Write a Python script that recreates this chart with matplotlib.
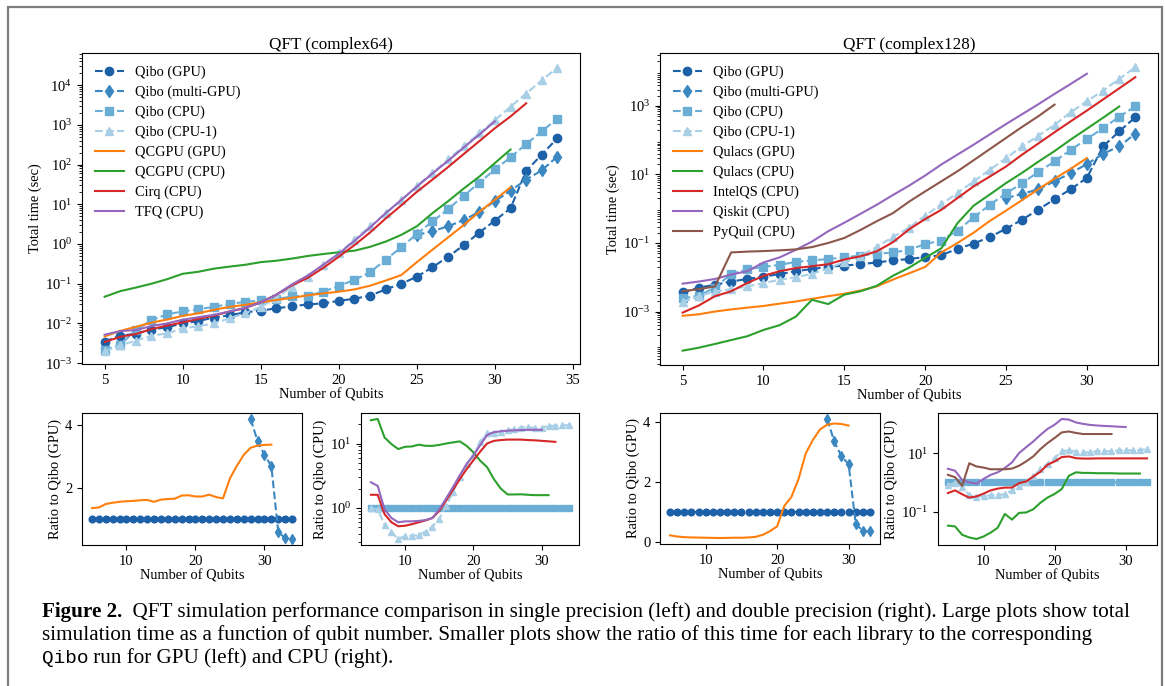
import matplotlib
matplotlib.use("Agg")
import matplotlib.pyplot as plt
from matplotlib.patches import Rectangle

plt.rcParams['font.family'] = ['Liberation Serif', 'DejaVu Serif']
plt.rcParams['mathtext.fontset'] = 'stix'
plt.rcParams['font.size'] = 10.4
plt.rcParams['xtick.labelsize'] = 10.5
plt.rcParams['ytick.labelsize'] = 10.5

# ---------------- data: QFT complex64 (single precision) ----------------
n64 = list(range(5, 35))
qibo_gpu64 = [3.5e-3, 4.9e-3, 5.5e-3, 7.0e-3, 8.0e-3, 1.0e-2, 1.15e-2, 1.4e-2, 1.6e-2, 1.9e-2,
              2.1e-2, 2.4e-2, 2.7e-2, 3.0e-2, 3.2e-2, 3.7e-2, 4.2e-2, 5.0e-2, 7.2e-2, 0.10,
              0.15, 0.26, 0.48, 0.93, 1.95, 3.9, 8.0, 69, 180, 460]
n64_multi = list(range(25, 35))
qibo_multi64 = [1.7, 2.1, 2.8, 4.0, 6.5, 12, 22, 42, 72, 160]
qibo_cpu64 = [2.1e-3, 2.9e-3, 6.8e-3, 1.2e-2, 1.7e-2, 2.0e-2, 2.3e-2, 2.6e-2, 3.1e-2, 3.5e-2,
              3.8e-2, 4.1e-2, 4.8e-2, 5.0e-2, 6.3e-2, 8.8e-2, 0.125, 0.195, 0.40, 0.83,
              1.8, 3.7, 7.6, 16.5, 35, 76, 152, 330, 690, 1450]
qibo_cpu1_64 = [2.0e-3, 2.8e-3, 3.7e-3, 4.9e-3, 5.6e-3, 7.5e-3, 8.5e-3, 1.0e-2, 1.35e-2, 1.8e-2,
                2.6e-2, 4.4e-2, 8.5e-2, 0.15, 0.30, 0.58, 1.3, 2.8, 5.9, 12.5,
                29, 62, 135, 295, 610, 1320, 2880, 6200, 13400, 27700]
n64_qcgpu = list(range(5, 32))
qcgpu_gpu64 = [4.7e-3, 6.5e-3, 8.2e-3, 1.05e-2, 1.25e-2, 1.55e-2, 1.8e-2, 2.2e-2, 2.6e-2, 2.95e-2,
               3.4e-2, 3.9e-2, 4.4e-2, 5.1e-2, 5.7e-2, 6.3e-2, 7.2e-2, 8.9e-2, 0.12, 0.165,
               0.35, 0.72, 1.47, 3.0, 6.5, 13, 27]
qcgpu_cpu64 = [0.047, 0.065, 0.08, 0.10, 0.13, 0.178, 0.20, 0.24, 0.27, 0.30,
               0.35, 0.38, 0.43, 0.50, 0.56, 0.62, 0.68, 0.85, 1.15, 1.7,
               2.8, 6.0, 12, 25, 50, 110, 240]
n64_cirq = list(range(5, 33))
cirq64 = [3.4e-3, 4.6e-3, 5.4e-3, 7.2e-3, 8.8e-3, 1.06e-2, 1.3e-2, 1.56e-2, 2.0e-2, 2.45e-2,
          3.4e-2, 5.3e-2, 9.1e-2, 0.14, 0.25, 0.48, 0.94, 1.95, 4.4, 9.4,
          20.7, 42, 87, 185, 390, 830, 1640, 3500]
n64_tfq = list(range(5, 31))
tfq64 = [5.2e-3, 6.4e-3, 6.8e-3, 8.6e-3, 1.0e-2, 1.24e-2, 1.43e-2, 1.64e-2, 2.0e-2, 2.45e-2,
         3.4e-2, 5.3e-2, 9.6e-2, 0.16, 0.30, 0.57, 1.2, 2.6, 6.0, 12.9,
         28, 60, 125, 270, 570, 1240]

# ratios to Qibo, complex64
ones64 = [1.0] * len(n64)
ratio_qcgpu_gpu64 = [1.35, 1.37, 1.48, 1.52, 1.55, 1.57, 1.58, 1.60, 1.61, 1.55,
                     1.62, 1.64, 1.65, 1.75, 1.76, 1.72, 1.72, 1.78, 1.70, 1.66,
                     2.3, 2.7, 3.05, 3.28, 3.35, 3.37, 3.38]
n64_rmulti = list(range(28, 35))
ratio_multi64 = [4.2, 3.5, 3.05, 2.7, 0.6, 0.38, 0.36]
ratio_cpu1_64 = [1.0, 0.95, 0.55, 0.42, 0.33, 0.37, 0.37, 0.38, 0.43, 0.51,
                 0.68, 1.07, 1.75, 3.0, 4.8, 6.6, 10.4, 14.4, 14.8, 15.1,
                 16, 16.8, 17.7, 18, 17.4, 17.4, 18.9, 18.8, 19.4, 19.1]
ratio_qcgpu_cpu64 = [23, 24, 12.4, 9.8, 8.2, 8.9, 9.0, 9.6, 9.2, 9.2,
                     9.5, 10, 10.4, 10.8, 9.2, 7.3, 5.4, 4.3, 2.8, 2.0,
                     1.62, 1.62, 1.63, 1.6, 1.58, 1.58, 1.58]
ratio_cirq64 = [1.6, 1.6, 0.8, 0.6, 0.52, 0.53, 0.56, 0.6, 0.64, 0.7,
                0.9, 1.3, 1.9, 2.8, 4.0, 5.5, 7.5, 10, 11, 11.3,
                11.5, 11.5, 11.5, 11.3, 11.2, 11.0, 10.8, 10.6]
ratio_tfq64 = [2.5, 2.2, 0.95, 0.7, 0.6, 0.62, 0.62, 0.63, 0.65, 0.7,
               0.95, 1.4, 2.1, 3.2, 4.8, 6.5, 9.5, 13.5, 15, 15.5,
               15.8, 16, 16.2, 16.3, 16.3, 16.3]

# ---------------- data: QFT complex128 (double precision) ----------------
n128 = list(range(5, 34))
qibo_gpu128 = [3.6e-3, 5.0e-3, 6.0e-3, 7.5e-3, 8.9e-3, 1.05e-2, 1.23e-2, 1.5e-2, 1.74e-2, 2.0e-2,
               2.2e-2, 2.4e-2, 2.7e-2, 3.1e-2, 3.4e-2, 3.9e-2, 4.4e-2, 6.8e-2, 0.096, 0.15,
               0.26, 0.48, 0.94, 1.9, 3.7, 7.9, 66, 180, 470]
n128_multi = list(range(25, 34))
qibo_multi128 = [2.05, 2.7, 3.7, 6.3, 11, 20, 40, 66, 155]
qibo_cpu128 = [2.4e-3, 2.9e-3, 5.0e-3, 1.25e-2, 1.7e-2, 2.0e-2, 2.3e-2, 2.8e-2, 3.1e-2, 3.4e-2,
               3.8e-2, 4.3e-2, 4.8e-2, 5.3e-2, 6.3e-2, 9.3e-2, 0.118, 0.23, 0.56, 1.3,
               2.8, 5.6, 11.8, 24, 52, 108, 225, 480, 980]
qibo_cpu1_128 = [1.9e-3, 2.8e-3, 3.8e-3, 4.5e-3, 5.4e-3, 6.7e-3, 8.5e-3, 1.0e-2, 1.26e-2, 1.8e-2,
                 2.8e-2, 4.3e-2, 7.6e-2, 0.15, 0.28, 0.63, 1.35, 2.9, 6.3, 13.7,
                 30, 66, 135, 280, 650, 1370, 2800, 6100, 13500]
n128_qulacs_gpu = list(range(5, 31))
qulacs_gpu128 = [7.5e-4, 8.3e-4, 1.0e-3, 1.15e-3, 1.3e-3, 1.45e-3, 1.7e-3, 1.96e-3, 2.35e-3, 2.8e-3,
                 3.3e-3, 4.1e-3, 5.4e-3, 8.5e-3, 1.3e-2, 2.0e-2, 5.3e-2, 0.10, 0.20, 0.44,
                 0.88, 1.8, 3.7, 7.5, 14.6, 30]
n128_qulacs_cpu = list(range(5, 33))
qulacs_cpu128 = [7.2e-5, 8.8e-5, 1.13e-4, 1.47e-4, 1.9e-4, 2.9e-4, 4.0e-4, 7.1e-4, 2.2e-3, 1.65e-3,
                 3.1e-3, 3.9e-3, 5.6e-3, 1.1e-2, 1.9e-2, 3.7e-2, 7.0e-2, 0.38, 1.23, 2.6,
                 5.6, 11.2, 23.6, 48, 104, 216, 450, 960]
intelqs128 = [9.3e-4, 1.5e-3, 2.8e-3, 3.9e-3, 6.8e-3, 1.1e-2, 1.5e-2, 1.85e-2, 2.1e-2, 2.4e-2,
              3.3e-2, 4.1e-2, 5.7e-2, 0.105, 0.25, 0.5, 0.93, 2.05, 4.5, 8.7,
              17, 38, 80, 170, 355, 730, 1540, 3250, 6900]
n128_qiskit = list(range(5, 31))
qiskit128 = [6.5e-3, 7.5e-3, 8.9e-3, 1.2e-2, 1.5e-2, 2.7e-2, 3.8e-2, 6.3e-2, 0.11, 0.22,
             0.39, 0.71, 1.3, 2.5, 4.7, 9.3, 19.5, 38, 74, 148,
             295, 575, 1120, 2240, 4370, 8700]
n128_pyquil = list(range(5, 29))
pyquil128 = [3.9e-3, 4.5e-3, 5.4e-3, 0.053, 0.056, 0.058, 0.061, 0.065, 0.076, 0.10,
             0.14, 0.24, 0.43, 0.74, 1.6, 3.2, 6.3, 12.4, 26, 55,
             116, 245, 500, 1090]

# ratios to Qibo, complex128
ones128 = [1.0] * len(n128)
ratio_qulacs_gpu128 = [0.22, 0.18, 0.16, 0.15, 0.145, 0.14, 0.135, 0.13, 0.135, 0.14,
                       0.14, 0.15, 0.17, 0.24, 0.36, 0.52, 1.2, 1.5, 2.1, 2.95,
                       3.4, 3.75, 3.91, 3.95, 3.93, 3.88]
n128_rmulti = list(range(27, 34))
ratio_multi128 = [4.1, 3.35, 2.85, 2.6, 0.6, 0.37, 0.35]
ratio_cpu1_128 = [0.8, 0.95, 0.7, 0.37, 0.32, 0.33, 0.37, 0.36, 0.4, 0.53,
                  0.74, 1.0, 1.6, 2.8, 4.4, 6.8, 11.4, 12.6, 11.3, 10.5,
                  10.7, 11.8, 11.4, 11.7, 12.5, 12.7, 12.4, 12.7, 13.8]
ratio_qulacs_cpu128 = [0.033, 0.031, 0.016, 0.013, 0.0115, 0.014, 0.019, 0.028, 0.083, 0.053,
                       0.09, 0.093, 0.12, 0.2, 0.3, 0.4, 0.59, 1.67, 2.2, 2.1,
                       2.1, 2.05, 2.05, 2.05, 2.0, 2.0, 2.0, 2.0]
ratio_intelqs128 = [0.43, 0.53, 0.39, 0.3, 0.33, 0.41, 0.53, 0.61, 0.66, 0.66,
                    0.94, 1.07, 1.58, 2.3, 4.0, 5.2, 7.3, 7.7, 6.7, 6.5,
                    6.5, 6.6, 6.6, 6.6, 6.6, 6.6, 6.6, 6.6, 6.6]
ratio_qiskit128 = [2.9, 2.5, 1.2, 1.0, 0.9, 1.3, 1.8, 2.2, 3.1, 4.8,
                   10, 16, 25, 42, 67, 94, 147, 140, 112, 100,
                   92, 88, 85, 83, 80, 78]
ratio_pyquil128 = [1.8, 1.5, 0.76, 4.5, 3.5, 3.2, 2.8, 2.8, 2.8, 2.95,
                   3.7, 5.2, 7.7, 13.7, 22, 33, 51, 55, 49, 45,
                   45, 45, 45, 45]

# ---------------- styling ----------------
C_GPU = '#1c60a8'
C_MGPU = '#3b87c1'
C_CPU = '#6aaed6'
C_CPU1 = '#a8cfe6'
C_OR, C_GR, C_RD, C_PU, C_BR = '#ff7f0e', '#2ca02c', '#d62728', '#9467bd', '#8c564b'

W, H = 1165, 686
fig = plt.figure(figsize=(W / 100, H / 100), dpi=100)


def box(l, t, r, b):
    return [l / W, 1 - b / H, (r - l) / W, (b - t) / H]


def qibo(ax, x, y, color, marker, label=None, ms=6):
    ax.plot(x, y, '--', color=color, marker=marker, ms=ms, label=label)


def labels(ax, ylabel):
    ax.set_xlabel('Number of Qubits', labelpad=1)
    ax.set_ylabel(ylabel, labelpad=2)


# main left
ax = fig.add_axes(box(82, 53, 580, 364))
qibo(ax, n64, qibo_gpu64, C_GPU, 'o', 'Qibo (GPU)')
qibo(ax, n64_multi, qibo_multi64, C_MGPU, 'd', 'Qibo (multi-GPU)')
qibo(ax, n64, qibo_cpu64, C_CPU, 's', 'Qibo (CPU)')
qibo(ax, n64, qibo_cpu1_64, C_CPU1, '^', 'Qibo (CPU-1)')
ax.plot(n64_qcgpu, qcgpu_gpu64, color=C_OR, label='QCGPU (GPU)')
ax.plot(n64_qcgpu, qcgpu_cpu64, color=C_GR, label='QCGPU (CPU)')
ax.plot(n64_cirq, cirq64, color=C_RD, label='Cirq (CPU)')
ax.plot(n64_tfq, tfq64, color=C_PU, label='TFQ (CPU)')
ax.set_yscale('log')
ax.set_ylim(9.5e-4, 6.5e4)
ax.set_yticks([1e-3, 1e-2, 1e-1, 1e0, 1e1, 1e2, 1e3, 1e4])
ax.set_xticks([5, 10, 15, 20, 25, 30, 35])
ax.set_title('QFT (complex64)', fontsize=12.3, pad=3)
labels(ax, 'Total time (sec)')
ax.legend(loc='upper left', frameon=False, labelspacing=0.45)

# main right
ax = fig.add_axes(box(660, 53, 1158, 365))
qibo(ax, n128, qibo_gpu128, C_GPU, 'o', 'Qibo (GPU)')
qibo(ax, n128_multi, qibo_multi128, C_MGPU, 'd', 'Qibo (multi-GPU)')
qibo(ax, n128, qibo_cpu128, C_CPU, 's', 'Qibo (CPU)')
qibo(ax, n128, qibo_cpu1_128, C_CPU1, '^', 'Qibo (CPU-1)')
ax.plot(n128_qulacs_gpu, qulacs_gpu128, color=C_OR, label='Qulacs (GPU)')
ax.plot(n128_qulacs_cpu, qulacs_cpu128, color=C_GR, label='Qulacs (CPU)')
ax.plot(n128, intelqs128, color=C_RD, label='IntelQS (CPU)')
ax.plot(n128_qiskit, qiskit128, color=C_PU, label='Qiskit (CPU)')
ax.plot(n128_pyquil, pyquil128, color=C_BR, label='PyQuil (CPU)')
ax.set_yscale('log')
ax.set_ylim(2.75e-5, 3.5e4)
ax.set_yticks([1e-3, 1e-1, 1e1, 1e3])
ax.set_xticks([5, 10, 15, 20, 25, 30])
ax.set_title('QFT (complex128)', fontsize=12.3, pad=3)
labels(ax, 'Total time (sec)')
ax.legend(loc='upper left', frameon=False, labelspacing=0.45)

# ratio panels, complex64
ax = fig.add_axes(box(82, 413, 302, 545))
qibo(ax, n64, ones64, C_GPU, 'o', ms=4.8)
qibo(ax, n64_rmulti, ratio_multi64, C_MGPU, 'd', ms=4.8)
ax.plot(n64_qcgpu, ratio_qcgpu_gpu64, color=C_OR)
ax.set_yticks([2, 4])
ax.set_xticks([10, 20, 30])
labels(ax, 'Ratio to Qibo (GPU)')

ax = fig.add_axes(box(361, 413, 579, 545))
qibo(ax, n64, ones64, C_CPU, 's', ms=4.8)
qibo(ax, n64, ratio_cpu1_64, C_CPU1, '^', ms=4.8)
ax.plot(n64_qcgpu, ratio_qcgpu_cpu64, color=C_GR)
ax.plot(n64_cirq, ratio_cirq64, color=C_RD)
ax.plot(n64_tfq, ratio_tfq64, color=C_PU)
ax.set_yscale('log')
ax.set_yticks([1, 10])
ax.set_xticks([10, 20, 30])
labels(ax, 'Ratio to Qibo (CPU)')

# ratio panels, complex128
ax = fig.add_axes(box(660, 413, 880, 544))
qibo(ax, n128, ones128, C_GPU, 'o', ms=4.8)
qibo(ax, n128_rmulti, ratio_multi128, C_MGPU, 'd', ms=4.8)
ax.plot(n128_qulacs_gpu, ratio_qulacs_gpu128, color=C_OR)
ax.set_yticks([0, 2, 4])
ax.set_xticks([10, 20, 30])
labels(ax, 'Ratio to Qibo (GPU)')

ax = fig.add_axes(box(938, 413, 1157, 545))
qibo(ax, n128, ones128, C_CPU, 's', ms=4.8)
qibo(ax, n128, ratio_cpu1_128, C_CPU1, '^', ms=4.8)
ax.plot(n128_qulacs_cpu, ratio_qulacs_cpu128, color=C_GR)
ax.plot(n128, ratio_intelqs128, color=C_RD)
ax.plot(n128_qiskit, ratio_qiskit128, color=C_PU)
ax.plot(n128_pyquil, ratio_pyquil128, color=C_BR)
ax.set_yscale('log')
ax.set_yticks([1e-1, 1e1])
ax.set_xticks([10, 20, 30])
labels(ax, 'Ratio to Qibo (CPU)')

# outer frame of the figure box (bottom edge is cut off)
fig.add_artist(Rectangle((8 / W, -0.05), (1162 - 8) / W, 1.05 - 7 / H,
                         transform=fig.transFigure, fill=False,
                         ec='#7d7d7d', lw=1.6))

# caption
renderer = fig.canvas.get_renderer()
bold = dict(weight='bold')
plain = dict()
mono = dict(family='Liberation Mono')
line1 = [('Figure 2.', bold),
         ('  QFT simulation performance comparison in single precision (left) and double precision (right). '
          'Large plots show total', plain)]
line2 = [('simulation time as a function of qubit number. Smaller plots show the ratio of this time '
          'for each library to the corresponding', plain)]
line3 = [('Qibo', mono), (' run for GPU (left) and CPU (right).', plain)]

# fit the first caption line to its width in the reference
probe_w = 0
for s, kw in line1:
    t = fig.text(0, 0, s, fontsize=10, **kw)
    probe_w += t.get_window_extent(renderer=renderer).width
    t.remove()
cap_size = 10 * (1128 - 42) / probe_w

for parts, base in [(line1, 617), (line2, 640), (line3, 663)]:
    x = 42
    for s, kw in parts:
        size = cap_size * 0.92 if kw is mono else cap_size
        t = fig.text(x / W, 1 - base / H, s, fontsize=size, va='baseline', ha='left', **kw)
        x += t.get_window_extent(renderer=renderer).width

fig.savefig('out.png', dpi=100)
